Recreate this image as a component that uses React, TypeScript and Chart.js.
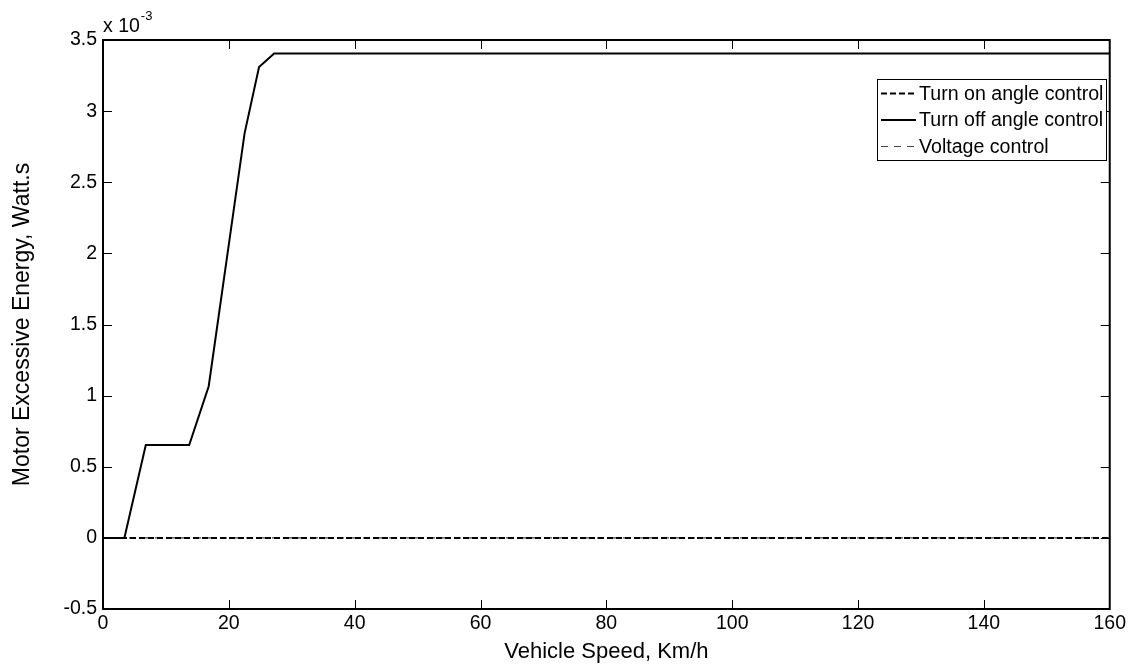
import React, { useEffect, useRef } from "react";
import { Chart, registerables } from "chart.js";

Chart.register(...registerables);

// Vehicle speed (km/h) breakpoints of the turn-off-angle curve
const speedKmh = [0, 3.4, 6.8, 13.7, 16.8, 22.5, 24.8, 27.2, 160];
// Motor excessive energy (x 10^-3 Watt.s) for turn-off angle control
const turnOffEnergy = [0, 0, 0.653, 0.653, 1.066, 2.844, 3.31, 3.405, 3.405];
// Turn-on angle and voltage control stay at zero over the whole speed range
const flatSpeedKmh = [0, 160];
const turnOnEnergy = [0, 0];
const voltageEnergy = [0, 0];

const seriesLabels = ["Turn on angle control", "Turn off angle control", "Voltage control"];
const xTicks = [0, 20, 40, 60, 80, 100, 120, 140, 160];
const yTicks = [-0.5, 0, 0.5, 1, 1.5, 2, 2.5, 3, 3.5];
const xTitle = "Vehicle Speed, Km/h";
const yTitle = "Motor Excessive Energy, Watt.s";

const FONT = "'Liberation Sans', Arial, Helvetica, sans-serif";

const toPoints = (xs: number[], ys: number[]) => xs.map((x, i) => ({ x, y: ys[i] }));

// Box frame, inward tick marks, exponent note and boxed legend
const framePlugin = {
  id: "matlabFrame",
  afterDraw(chart: any) {
    const { ctx, chartArea } = chart;
    const { left, right, top, bottom } = chartArea;
    const xs = chart.scales.x;
    const ys = chart.scales.y;
    ctx.save();

    // tick marks pointing into the plot on all four sides
    ctx.strokeStyle = "#000";
    ctx.lineWidth = 1;
    const tl = 9;
    ctx.beginPath();
    xTicks.slice(1, -1).forEach((v) => {
      const px = Math.round(xs.getPixelForValue(v)) + 0.5;
      ctx.moveTo(px, bottom);
      ctx.lineTo(px, bottom - tl);
      ctx.moveTo(px, top);
      ctx.lineTo(px, top + tl);
    });
    yTicks.slice(1, -1).forEach((v) => {
      const py = Math.round(ys.getPixelForValue(v)) + 0.5;
      ctx.moveTo(left, py);
      ctx.lineTo(left + tl, py);
      ctx.moveTo(right, py);
      ctx.lineTo(right - tl, py);
    });
    ctx.stroke();

    // axes box
    ctx.lineWidth = 2;
    ctx.strokeRect(left, top, right - left, bottom - top);

    // exponent multiplier above the y axis
    ctx.fillStyle = "#000";
    ctx.textBaseline = "alphabetic";
    ctx.textAlign = "left";
    ctx.font = `19.5px ${FONT}`;
    ctx.fillText("x 10", left, top - 8);
    const w = ctx.measureText("x 10").width;
    ctx.font = `13px ${FONT}`;
    ctx.fillText("-3", left + w + 1, top - 20);

    // legend
    const bx = 877, by = 79, bw = 229, bh = 81;
    ctx.fillStyle = "#fff";
    ctx.fillRect(bx, by, bw, bh);
    ctx.lineWidth = 1;
    ctx.strokeStyle = "#000";
    ctx.strokeRect(bx + 0.5, by + 0.5, bw, bh);
    const rows = [93.5, 120, 146.5];
    chart.data.datasets.forEach((ds: any, i: number) => {
      const y = rows[i];
      ctx.save();
      ctx.strokeStyle = ds.borderColor;
      ctx.lineWidth = ds.borderWidth;
      ctx.setLineDash(ds.borderDash || []);
      ctx.beginPath();
      ctx.moveTo(bx + 4, y);
      ctx.lineTo(bx + 39, y);
      ctx.stroke();
      ctx.restore();
      ctx.fillStyle = "#000";
      ctx.font = `19.6px ${FONT}`;
      ctx.textBaseline = "middle";
      ctx.fillText(ds.label, bx + 42, y + 1);
    });

    ctx.restore();
  },
};

export default function App() {
  const canvasRef = useRef<HTMLCanvasElement | null>(null);

  useEffect(() => {
    if (!canvasRef.current) return;
    const chart = new Chart(canvasRef.current, {
      type: "line",
      data: {
        datasets: [
          {
            label: seriesLabels[0],
            data: toPoints(flatSpeedKmh, turnOnEnergy),
            borderColor: "#000",
            borderWidth: 2,
            borderDash: [6, 3],
            pointRadius: 0,
          },
          {
            label: seriesLabels[1],
            data: toPoints(speedKmh, turnOffEnergy),
            borderColor: "#000",
            borderWidth: 2,
            pointRadius: 0,
          },
          {
            label: seriesLabels[2],
            data: toPoints(flatSpeedKmh, voltageEnergy),
            borderColor: "#444",
            borderWidth: 1.2,
            borderDash: [7, 6],
            pointRadius: 0,
          },
        ],
      },
      options: {
        animation: false,
        responsive: false,
        events: [],
        layout: { padding: { left: 0, top: 40, right: 18, bottom: 0 } },
        plugins: {
          legend: { display: false },
          tooltip: { enabled: false },
        },
        scales: {
          x: {
            type: "linear",
            min: 0,
            max: 160,
            afterFit: (s: any) => {
              s.height = 59;
            },
            afterBuildTicks: (s: any) => {
              s.ticks = xTicks.map((value) => ({ value }));
            },
            grid: { display: false, drawTicks: false },
            border: { display: false },
            ticks: {
              color: "#000",
              padding: 3,
              maxRotation: 0,
              font: { family: FONT, size: 19.5 },
              callback: (v: any) => String(v),
            },
            title: {
              display: true,
              text: xTitle,
              color: "#000",
              font: { family: FONT, size: 22 },
              padding: { top: 0, bottom: 3 },
            },
          },
          y: {
            type: "linear",
            min: -0.5,
            max: 3.5,
            afterFit: (s: any) => {
              s.width = 103;
            },
            afterBuildTicks: (s: any) => {
              s.ticks = yTicks.map((value) => ({ value }));
            },
            grid: { display: false, drawTicks: false },
            border: { display: false },
            ticks: {
              color: "#000",
              padding: 6,
              font: { family: FONT, size: 19.5 },
              callback: (v: any) => String(Number(Number(v).toFixed(1))),
            },
            title: {
              display: true,
              text: yTitle,
              color: "#000",
              font: { family: FONT, size: 23 },
              padding: { top: 9, bottom: 0 },
            },
          },
        },
      },
      plugins: [framePlugin],
    });
    return () => chart.destroy();
  }, []);

  return (
    <div style={{ position: "absolute", left: 0, top: 0, width: 1129, height: 668, background: "#fff" }}>
      <canvas ref={canvasRef} width={1129} height={668} style={{ display: "block" }} />
    </div>
  );
}
